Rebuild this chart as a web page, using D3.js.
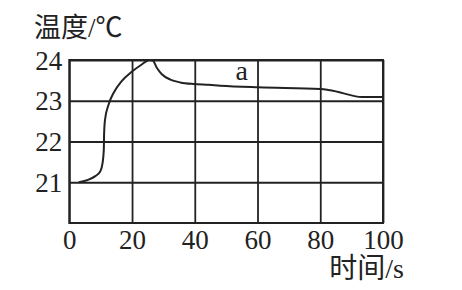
<!DOCTYPE html>
<html>
<head>
<meta charset="utf-8">
<script src="https://cdn.jsdelivr.net/npm/d3@7"></script>
<style>
body { margin: 0; background: #fff; }
</style>
</head>
<body>
<div id="chart"></div>
<script>
//the data
var times = [3, 5.6, 8.3, 9.9, 10.6, 11.0, 11.1, 11.4, 12.5, 14.1, 16.7, 19.9, 23.1, 25.5, 26.6, 27.9, 29.5, 32.2, 35.4, 39.6, 44.4, 48.2, 60.3, 80, 83.2, 93.4, 100];
var temps = [21, 21.05, 21.15, 21.27, 21.47, 21.8, 22.2, 22.54, 22.9, 23.19, 23.48, 23.71, 23.89, 24.0, 23.99, 23.81, 23.65, 23.52, 23.45, 23.41, 23.39, 23.37, 23.33, 23.29, 23.26, 23.09, 23.09];
var xTicks = [0, 20, 40, 60, 80, 100];
var yTicks = [21, 22, 23, 24];

var width = 462, height = 290;
var ink = "#222";
var font = '"Liberation Serif", "Noto Sans CJK SC", serif';

var svg = d3.select("#chart").append("svg")
    .attr("width", width)
    .attr("height", height);

var x = d3.scaleLinear().domain([0, 100]).range([69.3, 383]);
var y = d3.scaleLinear().domain([20, 24]).range([223, 60]);

//vertical grid + x labels
var xAxis = svg.append("g")
    .attr("transform", "translate(0," + y(20) + ")")
    .call(d3.axisBottom(x).tickValues(xTicks).tickFormat(d3.format("d"))
        .tickSize(-(y(20) - y(24))).tickPadding(8));
//horizontal grid + y labels
var yAxis = svg.append("g")
    .attr("transform", "translate(" + x(0) + ",0)")
    .call(d3.axisLeft(y).tickValues(yTicks).tickFormat(d3.format("d"))
        .tickSize(-(x(100) - x(0))).tickPadding(7));

[xAxis, yAxis].forEach(function(g){
	g.attr("font-family", null).attr("font-size", null);
	g.select(".domain").remove();
	g.selectAll("line").attr("stroke", ink).attr("stroke-width", 1.8);
	g.selectAll("text").attr("fill", ink)
		.style("font-family", font)
		.style("font-size", "27px");
});
xAxis.selectAll("text").attr("dy", "0.75em").attr("y", 6);
yAxis.selectAll("text").attr("dy", "0.34em");

//frame
svg.append("rect")
    .attr("x", x(0)).attr("y", y(24))
    .attr("width", x(100) - x(0)).attr("height", y(20) - y(24))
    .attr("fill", "none").attr("stroke", ink).attr("stroke-width", 2);

//the curve
var line = d3.line()
    .x(function(d, i){ return x(times[i]); })
    .y(function(d){ return y(d); })
    .curve(d3.curveMonotoneX);

svg.append("path")
    .datum(temps)
    .attr("d", line)
    .attr("fill", "none")
    .attr("stroke", ink)
    .attr("stroke-width", 2);

svg.append("text")
    .attr("x", x(55))
    .attr("y", y(23.52))
    .attr("text-anchor", "middle")
    .style("font-family", font)
    .style("font-size", "28px")
    .attr("fill", ink)
    .text("a");

//axis titles
svg.append("text")
    .attr("x", 34)
    .attr("y", 37)
    .style("font-family", font)
    .style("font-size", "27px")
    .attr("fill", ink)
    .text("温度/℃");

svg.append("text")
    .attr("x", 404)
    .attr("y", 278)
    .attr("text-anchor", "end")
    .style("font-family", font)
    .style("font-size", "28px")
    .attr("fill", ink)
    .text("时间/s");
</script>
</body>
</html>
